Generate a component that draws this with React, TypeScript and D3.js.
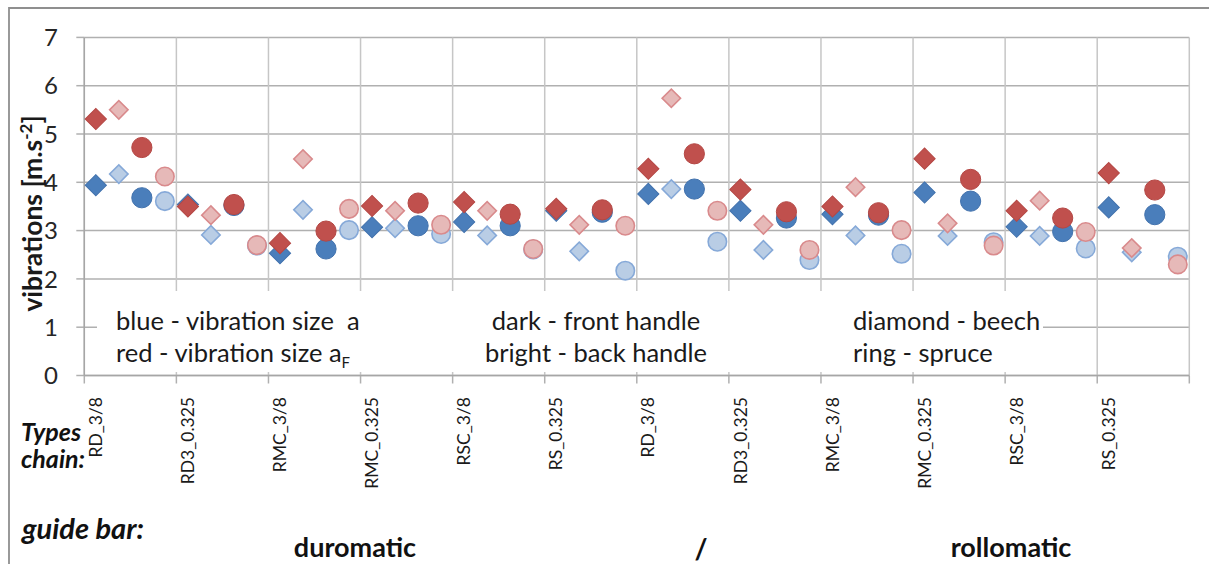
import React from "react";
import * as d3 from "d3";

// ---- data ----
const chainTypes = ["RD_3/8", "RD3_0.325", "RMC_3/8", "RMC_0.325", "RSC_3/8", "RS_0.325"];
const guideBars = ["duromatic", "rollomatic"];
const categoryLabels = guideBars.flatMap(() => chainTypes);
const yTicks = [0, 1, 2, 3, 4, 5, 6, 7];

// blue: vibration size a
const aBeechFront = [3.94, 3.54, 2.53, 3.07, 3.18, 3.41, 3.76, 3.41, 3.34, 3.79, 3.08, 3.48];
const aBeechBack = [4.17, 2.91, 3.43, 3.05, 2.9, 2.57, 3.86, 2.6, 2.9, 2.89, 2.89, 2.55];
const aSpruceFront = [3.68, 3.52, 2.62, 3.1, 3.1, 3.38, 3.86, 3.26, 3.32, 3.61, 2.98, 3.33];
const aSpruceBack = [3.61, 2.69, 3.01, 2.93, 2.61, 2.17, 2.77, 2.39, 2.52, 2.76, 2.63, 2.46];
// red: vibration size aF
const aFBeechFront = [5.31, 3.5, 2.74, 3.51, 3.59, 3.45, 4.28, 3.85, 3.5, 4.49, 3.41, 4.19];
const aFBeechBack = [5.5, 3.32, 4.48, 3.41, 3.41, 3.12, 5.74, 3.12, 3.9, 3.15, 3.62, 2.64];
const aFSpruceFront = [4.72, 3.54, 2.99, 3.57, 3.34, 3.43, 4.59, 3.39, 3.37, 4.06, 3.26, 3.84];
const aFSpruceBack = [4.12, 2.7, 3.45, 3.12, 2.62, 3.1, 3.41, 2.6, 3.01, 2.69, 2.97, 2.3];

const W = 1209;
const H = 564;
const plot = { left: 84.3, right: 1189.3, top: 37.4, bottom: 375.5 };
const FONT = "Lato, 'Noto Sans', sans-serif";

export default function App() {
  const perGroup = 4;
  const n = categoryLabels.length * perGroup;
  const x = d3
    .scaleBand<number>()
    .domain(d3.range(n))
    .range([plot.left, plot.right])
    .padding(0);
  const y = d3.scaleLinear().domain([0, 7]).range([plot.bottom, plot.top]);
  const cx = (g: number, s: number) => (x(g * perGroup + s) as number) + x.bandwidth() / 2;

  const diamondDark = d3.symbol(d3.symbolSquare, 225)() as string;
  const diamondLight = d3.symbol(d3.symbolSquare, 170)() as string;
  const circleDark = d3.symbol(d3.symbolCircle, 320)() as string;
  const circleLight = d3.symbol(d3.symbolCircle, 268)() as string;

  const blueDark = { fill: "#4a7ebb", stroke: "#4272ad" };
  const blueLight = { fill: "#b9cde5", stroke: "#86a9d8" };
  const redDark = { fill: "#c0504d", stroke: "#b44744" };
  const redLight = { fill: "#e6b9b8", stroke: "#d98a8c" };

  const series = [
    { values: aBeechFront, sub: 0, path: diamondDark, rot: 45, c: blueDark, sw: 1 },
    { values: aBeechBack, sub: 1, path: diamondLight, rot: 45, c: blueLight, sw: 1.6 },
    { values: aSpruceFront, sub: 2, path: circleDark, rot: 0, c: blueDark, sw: 1 },
    { values: aSpruceBack, sub: 3, path: circleLight, rot: 0, c: blueLight, sw: 1.6 },
    { values: aFBeechFront, sub: 0, path: diamondDark, rot: 45, c: redDark, sw: 1 },
    { values: aFBeechBack, sub: 1, path: diamondLight, rot: 45, c: redLight, sw: 1.6 },
    { values: aFSpruceFront, sub: 2, path: circleDark, rot: 0, c: redDark, sw: 1 },
    { values: aFSpruceBack, sub: 3, path: circleLight, rot: 0, c: redLight, sw: 1.6 },
  ];

  const boundaries = d3.range(0, n + 1, perGroup).map((i) => plot.left + i * x.step());

  return (
    <svg
      width={W}
      height={H}
      style={{ position: "absolute", left: 0, top: 0, background: "#fff" }}
      fontFamily={FONT}
    >
      <rect x={0} y={0} width={W} height={H} fill="#fff" />
      {/* outer chart border */}
      <path d={`M9,${H + 5} V8 H${W + 5}`} fill="none" stroke="#8f8f8f" strokeWidth={1.8} />

      {/* horizontal gridlines */}
      {yTicks.map((t) => (
        <line key={"h" + t} x1={plot.left} x2={plot.right} y1={y(t)} y2={y(t)} stroke="#b0b0b0" strokeWidth={1.5} />
      ))}
      {/* vertical gridlines */}
      {boundaries.map((bx, i) => (
        <line key={"v" + i} x1={bx} x2={bx} y1={plot.top} y2={plot.bottom} stroke="#c6c6c6" strokeWidth={1.5} />
      ))}
      {/* y ticks */}
      {yTicks.map((t) => (
        <line key={"yt" + t} x1={plot.left - 8} x2={plot.left} y1={y(t)} y2={y(t)} stroke="#b0b0b0" strokeWidth={1.5} />
      ))}
      {/* x ticks */}
      {boundaries.map((bx, i) => (
        <line key={"xt" + i} x1={bx} x2={bx} y1={plot.bottom} y2={plot.bottom + 8} stroke="#b0b0b0" strokeWidth={1.5} />
      ))}

      {/* white text boxes */}
      <rect x={97} y={291} width={946} height={81} fill="#fff" />
      {/* axes */}
      <line x1={plot.left} x2={plot.left} y1={plot.top} y2={plot.bottom} stroke="#a6a6a6" strokeWidth={1.5} />
      <line x1={plot.left} x2={plot.right} y1={plot.bottom} y2={plot.bottom} stroke="#a6a6a6" strokeWidth={1.5} />

      {/* y tick labels */}
      {yTicks.map((t) => (
        <text key={"yl" + t} x={58} y={y(t)} dy="0.36em" textAnchor="end" fontSize={24} fill="#262626">
          {t}
        </text>
      ))}

      {/* y axis title */}
      <text
        transform={`translate(42,${(plot.top + plot.bottom) / 2 + 7}) rotate(-90)`}
        textAnchor="middle"
        fontSize={26.5}
        fontWeight="bold"
        fill="#1a1a1a"
      >
        vibrations [m.s<tspan dy={-10} fontSize={17}>-2</tspan>
        <tspan dy={10}>]</tspan>
      </text>

      {/* markers */}
      {series.map((s, si) => (
        <g key={"s" + si}>
          {s.values.map((v, g) => (
            <path
              key={g}
              d={s.path}
              transform={`translate(${cx(g, s.sub)},${y(v)}) rotate(${s.rot})`}
              fill={s.c.fill}
              stroke={s.c.stroke}
              strokeWidth={s.sw}
            />
          ))}
        </g>
      ))}

      {/* x category labels */}
      {categoryLabels.map((lab, g) => (
        <text
          key={"xl" + g}
          transform={`translate(${cx(g, 0)},397) rotate(-90)`}
          textAnchor="end"
          dy="0.35em"
          fontSize={17.5}
          fill="#1a1a1a"
        >
          {lab}
        </text>
      ))}

      {/* annotation text */}
      <g fontSize={25.5} fill="#1a1a1a">
        <text x={116} y={330}>{"blue - vibration size\u00a0\u00a0a"}</text>
        <text x={116} y={362}>
          red - vibration size a<tspan dy={6} fontSize={15}>F</tspan>
        </text>
        <text x={596} y={330} textAnchor="middle">dark - front handle</text>
        <text x={596} y={362} textAnchor="middle">bright - back handle</text>
        <text x={853} y={330}>diamond - beech</text>
        <text x={853} y={362}>ring - spruce</text>
      </g>

      {/* lower labels */}
      <g fontWeight="bold" fill="#111">
        <text x={21} y={441} fontStyle="italic" fontSize={25}>Types</text>
        <text x={21} y={468} fontStyle="italic" fontSize={25}>chain:</text>
        <text x={22} y={539} fontStyle="italic" fontSize={29}>guide bar:</text>
        <text x={355} y={557} textAnchor="middle" fontSize={27}>{guideBars[0]}</text>
        <text x={701} y={559} textAnchor="middle" fontSize={28}>/</text>
        <text x={1011} y={557} textAnchor="middle" fontSize={27}>{guideBars[1]}</text>
      </g>
    </svg>
  );
}
